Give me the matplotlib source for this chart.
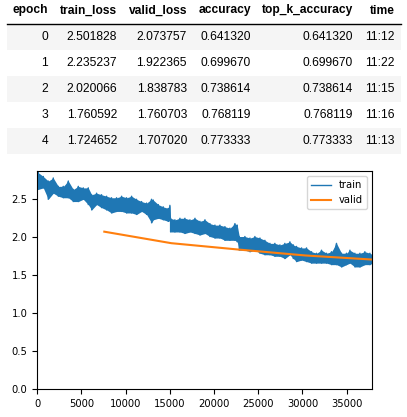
import numpy as np
import matplotlib
matplotlib.use("Agg")
import matplotlib.pyplot as plt
from matplotlib.patches import Rectangle


# table data
columns = ["epoch", "train_loss", "valid_loss", "accuracy", "top_k_accuracy", "time"]
epochs = [0, 1, 2, 3, 4]
train_loss = [2.501828, 2.235237, 2.020066, 1.760592, 1.724652]
valid_loss = [2.073757, 1.922365, 1.838783, 1.760703, 1.707020]
accuracy = [0.641320, 0.699670, 0.738614, 0.768119, 0.773333]
top_k_accuracy = [0.641320, 0.699670, 0.738614, 0.768119, 0.773333]
times = ["11:12", "11:22", "11:15", "11:16", "11:13"]

train_iters = [5, 113, 680, 1240, 1810, 2380, 2940, 3510, 4070, 4640, 5200, 5770,
               6150, 6710, 7270, 7840, 8400, 8970, 9540, 10100, 10670, 11230, 11800,
               12360, 12930, 13120, 13690, 14250, 14820, 15000, 15080, 15570, 16140,
               16700, 17270, 17840, 18400, 18970, 19530, 20100, 20660, 21230, 21790,
               22360, 22620, 22850, 23490, 24060, 24620, 25190, 25750, 26320, 26880,
               27450, 28010, 28580, 28960, 29330, 29900, 30460, 31030, 31590, 32160,
               32720, 33290, 33850, 34420, 34980, 35370, 35930, 36500, 37060, 37630,
               37900]
train_top = [2.87, 2.85, 2.80, 2.74, 2.78, 2.67, 2.67, 2.74, 2.63, 2.67, 2.65, 2.65,
             2.56, 2.58, 2.56, 2.54, 2.52, 2.52, 2.54, 2.52, 2.54, 2.50, 2.47,
             2.45, 2.50, 2.49, 2.43, 2.40, 2.38, 2.42, 2.25, 2.23, 2.25,
             2.25, 2.23, 2.25, 2.21, 2.23, 2.18, 2.16, 2.16, 2.14, 2.12,
             2.18, 2.16, 2.01, 2.01, 1.99, 2.01, 1.99, 1.96, 1.92, 1.92,
             1.90, 1.92, 1.94, 1.90, 1.88, 1.86, 1.86, 1.81, 1.79, 1.83,
             1.79, 1.81, 1.92, 1.79, 1.79, 1.83, 1.79, 1.79, 1.81, 1.79,
             1.77]
train_bottom = [2.64, 2.63, 2.65, 2.50, 2.58, 2.54, 2.52, 2.52, 2.47, 2.47, 2.50, 2.43,
                2.36, 2.43, 2.39, 2.36, 2.32, 2.34, 2.34, 2.32, 2.32, 2.30, 2.34,
                2.30, 2.19, 2.23, 2.25, 2.23, 2.21, 2.22, 2.07, 2.07, 2.07,
                2.05, 2.07, 2.05, 2.03, 2.05, 2.01, 1.99, 1.99, 1.96, 1.96,
                1.96, 1.94, 1.83, 1.83, 1.81, 1.83, 1.79, 1.77, 1.77, 1.75,
                1.75, 1.72, 1.77, 1.72, 1.68, 1.70, 1.68, 1.66, 1.66, 1.66,
                1.66, 1.64, 1.64, 1.61, 1.64, 1.66, 1.61, 1.61, 1.64, 1.64,
                1.66]
valid_iters = [7580, 15160, 22740, 30320, 37900]


fig = plt.figure(figsize=(4.07, 4.17), dpi=100)

# ---- table (top part) ----
tab = fig.add_axes([0, 1 - 160 / 417, 1, 160 / 417])
tab.set_xlim(0, 407)
tab.set_ylim(160, 0)
tab.axis("off")

col_right = [48, 117, 187, 251, 353, 395]
row_h = 26
tfont = dict(family=["Liberation Sans", "DejaVu Sans"], fontsize=8.64, color="black")

for i in range(len(epochs)):
    if i % 2 == 0:
        tab.add_patch(Rectangle((7, 24 + row_h * i), 394, row_h, color="#f5f5f5", lw=0))
tab.plot([7, 401], [23.5, 23.5], color="black", lw=1)

for c, name in enumerate(columns):
    tab.text(col_right[c], 10.5, name, ha="right", va="center", fontweight="bold", **tfont)

for i in range(len(epochs)):
    cells = [str(epochs[i]), "{:.6f}".format(train_loss[i]), "{:.6f}".format(valid_loss[i]),
             "{:.6f}".format(accuracy[i]), "{:.6f}".format(top_k_accuracy[i]), times[i]]
    y = 37 + row_h * i
    for c, s in enumerate(cells):
        tab.text(col_right[c], y, s, ha="right", va="center", **tfont)

# ---- loss plot ----
ax = fig.add_axes([37.3 / 407, (417 - 389.3) / 417, 335 / 407, 218.3 / 417])

zig_x = np.repeat(train_iters, 2)
zig_y = np.ravel(np.column_stack([train_top, train_bottom]))
ax.fill_between(train_iters, train_bottom, train_top, color="C0", lw=0)
ax.plot(zig_x, zig_y, color="C0", lw=1, label="train")
ax.plot(valid_iters, valid_loss, color="C1", lw=1.5, label="valid")

ax.set_xlim(0, 37900)
ax.set_ylim(0, 2.872)
ax.set_xticks(np.arange(0, 37900, 5000))
ax.set_yticks(np.arange(0, 2.6, 0.5))
ax.tick_params(labelsize=7.2, length=3.5, width=0.8)
for s in ax.spines.values():
    s.set_linewidth(0.8)
ax.legend(loc="upper right", fontsize=7.2)

plt.savefig("out.png", dpi=100)
